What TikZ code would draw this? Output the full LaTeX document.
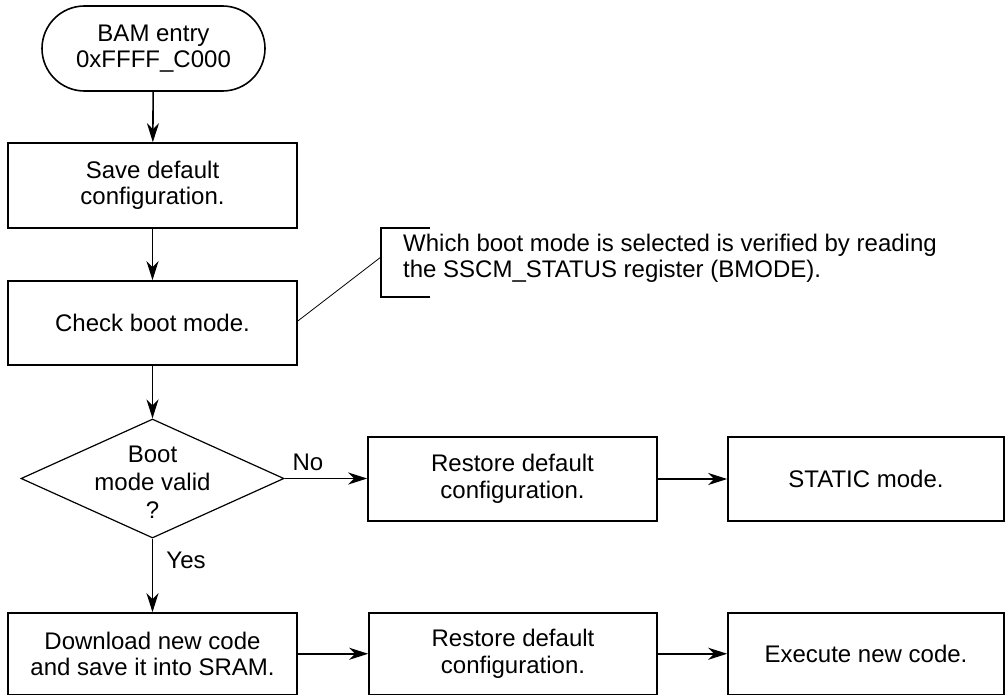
\documentclass[tikz,border=0pt]{standalone}
\usepackage{fontspec}
\setmainfont{Liberation Sans}
\usetikzlibrary{arrows.meta,shapes.geometric}
\begin{document}
\begin{tikzpicture}[x=1pt,y=-1pt,
  box/.style={draw, line width=1.6pt, minimum width=289pt, minimum height=84pt, inner sep=0pt, align=center, font=\fontsize{24}{26.5}\selectfont},
  arr/.style={line width=1.6pt, -{Stealth[length=19pt,width=12pt,inset=6pt]}},
  lbl/.style={inner sep=0pt, font=\fontsize{24}{26.5}\selectfont}]
\useasboundingbox (0,0) rectangle (1008,696);

% nodes
\node[box, minimum width=223pt, minimum height=85pt, rounded corners=42.5pt] (start) at (153.5,48.5) {BAM entry\\0xFFFF\_C000};
\node[box, minimum height=85pt] (save) at (152.5,185.5) {Save default\\configuration.};
\node[box] (chk) at (152.5,323) {Check boot mode.};
\node[draw, line width=1.2pt, diamond, minimum width=263pt, minimum height=119pt, inner sep=0pt] (dec) at (152.5,478.5) {};
\node[lbl, align=center, font=\fontsize{24}{28}\selectfont] (dect) at (152.5,482) {Boot\\mode valid\\?};
\node[box] (rst1) at (512.5,479) {Restore default\\configuration.};
\node[box, minimum width=276pt] (stat) at (866,479) {STATIC mode.};
\node[box, minimum height=81.5pt] (dl) at (152.5,653.75) {Download new code\\and save it into SRAM.};
\node[box, minimum width=288pt, minimum height=81.5pt] (rst2) at (513,653.75) {Restore default\\configuration.};
\node[box, minimum width=276pt, minimum height=81.5pt] (exe) at (866,653.75) {Execute new code.};

\node[lbl] (no) at (308,462) {No};
\node[lbl] (yes) at (186,560) {Yes};

% annotation
\coordinate (bt) at (430,228);
\coordinate (bb) at (430,297);
\coordinate (bp) at (381,257);
\draw[line width=1.3pt] (bt) -| (bp) |- (bb);
\draw[line width=0.8pt] ([yshift=2pt]chk.east) -- (bp);
\node[inner sep=0pt, anchor=west, align=left, font=\fontsize{24}{26}\selectfont] (note) at (403,258) {Which boot mode is selected is verified by reading\\the SSCM\_STATUS register (BMODE).};

% connectors
\draw[arr] (start) -- (save);
\draw[arr] (save) -- (chk);
\draw[arr] (chk) -- (dec);
\draw[arr] (dec.east) -- (dec.east -| rst1.west);
\draw[arr] (rst1) -- (stat);
\draw[arr] (dec.south) -- (dl.north);
\draw[arr] (dl) -- (rst2);
\draw[arr] (rst2) -- (exe);
\end{tikzpicture}
\end{document}
